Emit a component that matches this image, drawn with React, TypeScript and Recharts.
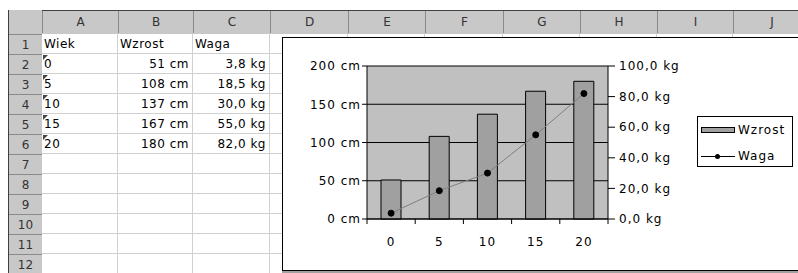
import React from "react";
import { ComposedChart, Bar, Line, XAxis, YAxis, CartesianGrid, Legend } from "recharts";

// sheet content
const AGES = ["0", "5", "10", "15", "20"];
const HEIGHT_CM = [51, 108, 137, 167, 180];
const WEIGHT_KG = [3.8, 18.5, 30, 55, 82];
const HEADERS = ["Wiek", "Wzrost", "Waga"];
const CM_TICKS = [0, 50, 100, 150, 200];
const KG_TICKS = [0, 20, 40, 60, 80, 100];
const COLUMNS = ["A", "B", "C", "D", "E", "F", "G", "H", "I", "J"];
const ROW_NUMBERS = [1, 2, 3, 4, 5, 6, 7, 8, 9, 10, 11, 12];

// layout of the sheet (px)
const COL_EDGES = [42, 118, 193, 270, 348, 425, 503, 580, 657, 733, 810];
const ROW_TOP = 34;
const ROW_H = 20;
const FONT = "'DejaVu Sans', sans-serif";

const PLOT_W = 241;
const HALF_BAND = PLOT_W / AGES.length / 2;

const fmtCm = (v: number) => `${v} cm`;
const fmtKg = (v: number) => `${v.toFixed(1).replace(".", ",")} kg`;

const data = AGES.map((a, i) => ({ age: a, Wzrost: HEIGHT_CM[i], Waga: WEIGHT_KG[i] }));

function AgeTick(props: any) {
  const { x, y, payload, index } = props;
  const last = index === AGES.length - 1;
  return (
    <g>
      <line x1={x - HALF_BAND} y1={y} x2={x - HALF_BAND} y2={y + 5} stroke="#000" />
      {last && <line x1={x + HALF_BAND} y1={y} x2={x + HALF_BAND} y2={y + 5} stroke="#000" />}
      <text x={x} y={y + 18} dy="0.71em" textAnchor="middle" fontSize={12} fontFamily={FONT} letterSpacing={1} fill="#000">
        {payload.value}
      </text>
    </g>
  );
}

function ChartLegend() {
  return (
    <div style={{ border: "1px solid #000", width: 96, height: 51, background: "#fff", fontFamily: FONT, fontSize: 12, letterSpacing: 1, boxSizing: "border-box", position: "relative" }}>
      <div style={{ position: "absolute", left: 3, top: 10, width: 34, height: 6, background: "#a0a0a0", border: "1px solid #000", boxSizing: "border-box" }} />
      <div style={{ position: "absolute", left: 40, top: 6 }}>Wzrost</div>
      <div style={{ position: "absolute", left: 3, top: 39, width: 34, height: 1, background: "#000" }} />
      <div style={{ position: "absolute", left: 17, top: 37, width: 5, height: 5, borderRadius: 3, background: "#000" }} />
      <div style={{ position: "absolute", left: 40, top: 32 }}>Waga</div>
    </div>
  );
}

function WeightChart() {
  return (
    <ComposedChart width={515} height={232} data={data} margin={{ top: 28, right: 100, bottom: 0, left: 0 }}>
      <CartesianGrid yAxisId="cm" vertical={false} fill="#c0c0c0" fillOpacity={1} stroke="#000" />
      <XAxis dataKey="age" height={51} interval={0} axisLine={{ stroke: "#000" }} tickLine={false} tickSize={0} tickMargin={0} tick={<AgeTick />} />
      <YAxis yAxisId="cm" width={84} domain={[0, 200]} ticks={CM_TICKS} tickFormatter={fmtCm} axisLine={{ stroke: "#000" }} tickLine={{ stroke: "#000" }} tickSize={5} tickMargin={1} tick={{ fill: "#000", fontSize: 12, fontFamily: FONT, letterSpacing: 1 }} />
      <YAxis yAxisId="kg" orientation="right" width={90} domain={[0, 100]} ticks={KG_TICKS} tickFormatter={fmtKg} axisLine={{ stroke: "#000" }} tickLine={{ stroke: "#000" }} tickSize={7} tickMargin={4} tick={{ fill: "#000", fontSize: 12, fontFamily: FONT, letterSpacing: 1, textAnchor: "start" }} />
      <Bar yAxisId="cm" dataKey="Wzrost" fill="#a0a0a0" stroke="#000" barSize={20} isAnimationActive={false} />
      <Line yAxisId="kg" dataKey="Waga" type="linear" stroke="#808080" strokeWidth={1} dot={{ r: 3, fill: "#000", stroke: "#000" }} isAnimationActive={false} />
      <Legend layout="vertical" align="center" verticalAlign="middle" content={<ChartLegend />} wrapperStyle={{ left: 414, top: 78, width: 96, height: 51 }} />
    </ComposedChart>
  );
}

export default function App() {
  const cell = (text: string, col: number, row: number, align: "left" | "right", mark = false) => (
    <div key={`${col}-${row}`} style={{ position: "absolute", left: COL_EDGES[col] + 2, top: ROW_TOP + (row - 1) * ROW_H, width: COL_EDGES[col + 1] - COL_EDGES[col] - 6, height: ROW_H, lineHeight: `${ROW_H}px`, textAlign: align, fontSize: 12, letterSpacing: 0.5 }}>
      {mark && <div style={{ position: "absolute", left: -1, top: 1, width: 0, height: 0, borderTop: "5px solid #444", borderRight: "5px solid transparent" }} />}
      {text}
    </div>
  );

  return (
    <div style={{ position: "absolute", left: 0, top: 0, width: 798, height: 273, overflow: "hidden", background: "#fff", fontFamily: FONT, color: "#000" }}>
      {/* header row */}
      <div style={{ position: "absolute", left: 8, top: 10, width: 790, height: 24, background: "#c8c8c8", borderTop: "1px solid #404040", boxSizing: "border-box" }} />
      {COLUMNS.map((c, i) => (
        <div key={c} style={{ position: "absolute", left: COL_EDGES[i], top: 11, width: COL_EDGES[i + 1] - COL_EDGES[i], height: 22, lineHeight: "22px", textAlign: "center", fontSize: 12, color: "#333", borderLeft: "1px solid #8a8a8a", boxSizing: "border-box" }}>
          {c}
        </div>
      ))}
      {/* row headers */}
      <div style={{ position: "absolute", left: 8, top: 10, width: 34, height: 263, background: "#c8c8c8", borderLeft: "1px solid #404040", boxSizing: "border-box" }} />
      {ROW_NUMBERS.map((r) => (
        <div key={r} style={{ position: "absolute", left: 9, top: ROW_TOP + (r - 1) * ROW_H, width: 33, height: ROW_H, lineHeight: `${ROW_H}px`, textAlign: "center", fontSize: 12, color: "#333", borderTop: "1px solid #8a8a8a", boxSizing: "border-box" }}>
          {r}
        </div>
      ))}
      {/* cell grid */}
      {ROW_NUMBERS.map((r) => (
        <div key={`h${r}`} style={{ position: "absolute", left: 42, top: ROW_TOP + r * ROW_H - 1, width: 760, height: 1, background: "#d0d0d0" }} />
      ))}
      {COL_EDGES.slice(1).map((x) => (
        <div key={`v${x}`} style={{ position: "absolute", left: x - 1, top: ROW_TOP, width: 1, height: 240, background: "#d0d0d0" }} />
      ))}
      {/* cell contents */}
      {HEADERS.map((h, i) => cell(h, i, 1, "left"))}
      {AGES.map((a, i) => cell(a, 0, i + 2, "left", true))}
      {HEIGHT_CM.map((v, i) => cell(fmtCm(v), 1, i + 2, "right"))}
      {WEIGHT_KG.map((v, i) => cell(fmtKg(v), 2, i + 2, "right"))}
      {/* embedded chart */}
      <div style={{ position: "absolute", left: 282, top: 37, width: 530, height: 234, border: "1px solid #000", background: "#fff", boxSizing: "border-box" }}>
        <WeightChart />
      </div>
      <div style={{ position: "absolute", left: 282, top: 271, width: 530, height: 2, background: "#a0a0a0" }} />
    </div>
  );
}
